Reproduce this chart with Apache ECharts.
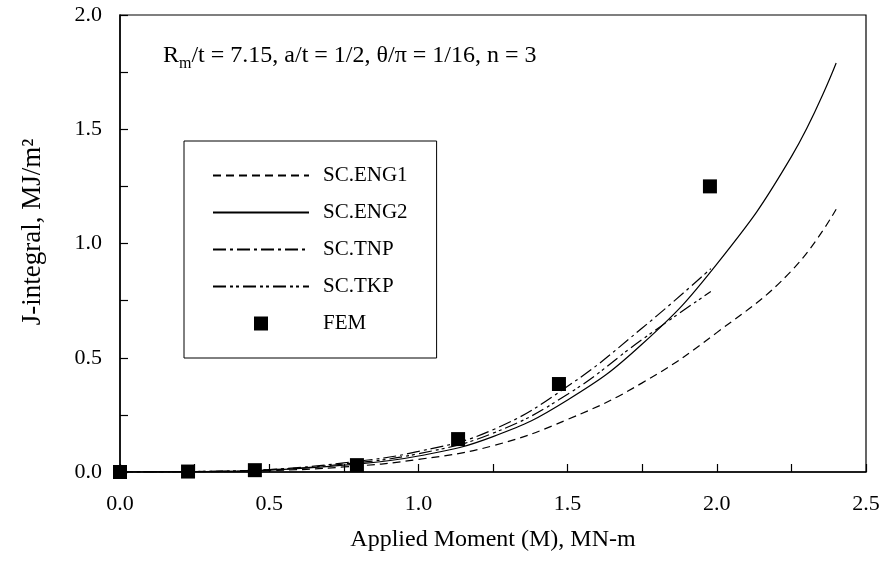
<!DOCTYPE html>
<html>
<head>
<meta charset="utf-8">
<script src="https://cdn.jsdelivr.net/npm/echarts@6/dist/echarts.min.js"></script>
<style>html,body{margin:0;padding:0;background:#fff}#c{width:885px;height:561px}</style>
</head>
<body>
<div id="c"></div>
<script>
// ---- data ----
const mCurve = [0, 0.25, 0.5, 0.75, 1.0, 1.25, 1.5, 1.75, 2.0, 2.25, 2.4];
const eng1 = [0, 0.001, 0.006, 0.022, 0.055, 0.115, 0.23, 0.39, 0.61, 0.88, 1.15];
const eng2 = [0, 0.001, 0.008, 0.03, 0.07, 0.155, 0.315, 0.56, 0.91, 1.38, 1.79];
const mShort = [0, 0.25, 0.5, 0.75, 1.0, 1.25, 1.5, 1.75, 1.98];
const tnp = [0, 0.002, 0.011, 0.04, 0.09, 0.185, 0.375, 0.63, 0.89];
const tkp = [0, 0.002, 0.01, 0.035, 0.08, 0.17, 0.34, 0.58, 0.79];
const mFem = [0, 0.228, 0.452, 0.794, 1.133, 1.471, 1.977];
const fem = [0, 0.002, 0.008, 0.03, 0.144, 0.385, 1.25];
const seriesNames = ['SC.ENG1', 'SC.ENG2', 'SC.TNP', 'SC.TKP', 'FEM'];
const xTicks = [0, 0.5, 1.0, 1.5, 2.0, 2.5];
const yTicks = [0, 0.5, 1.0, 1.5, 2.0];

const pair = (xs, ys) => xs.map((x, i) => [x, ys[i]]);
const FONT = '"Liberation Serif", "Times New Roman", serif';

const chart = echarts.init(document.getElementById('c'));
const lineS = (name, xs, ys, type) => ({
  name, type: 'line', data: pair(xs, ys), smooth: 0.45, symbol: 'none', showSymbol: false,
  itemStyle: { color: '#000' },
  lineStyle: { color: '#000', width: 1.2, type }, z: 3
});
chart.setOption({
  animation: false,
  backgroundColor: '#fff',
  grid: { left: 120, right: 19, top: 15, bottom: 89, show: true, borderColor: '#000', borderWidth: 1.2 },
  xAxis: {
    type: 'value', min: 0, max: 2.5, interval: 0.25,
    name: 'Applied Moment (M), MN-m', nameLocation: 'middle', nameGap: 56,
    nameTextStyle: { fontFamily: FONT, fontSize: 24, color: '#000' },
    axisLine: { lineStyle: { color: '#000', width: 1.5 } },
    axisTick: { inside: true, length: 8, lineStyle: { color: '#000', width: 1.2 } },
    axisLabel: { margin: 21, fontFamily: FONT, fontSize: 22, color: '#000',
      formatter: v => xTicks.some(t => Math.abs(t - v) < 1e-6) ? v.toFixed(1) : '' },
    splitLine: { show: false }
  },
  yAxis: {
    type: 'value', min: 0, max: 2.0, interval: 0.25,
    axisLine: { lineStyle: { color: '#000', width: 1.5 } },
    axisTick: { inside: true, length: 8, lineStyle: { color: '#000', width: 1.2 } },
    axisLabel: { margin: 18, fontFamily: FONT, fontSize: 22, color: '#000',
      formatter: v => yTicks.some(t => Math.abs(t - v) < 1e-6) ? v.toFixed(1) : '' },
    splitLine: { show: false }
  },
  legend: {
    orient: 'vertical', left: 184, top: 141,
    data: seriesNames.map(n => n === 'FEM'
      ? { name: n, icon: 'path://M0,0L10,0L10,10L0,10Z', itemStyle: { color: '#000', opacity: 1 } }
      : { name: n, itemStyle: { opacity: 0 } }),
    itemWidth: 96, itemHeight: 14, itemGap: 16,
    padding: [24, 29, 24, 28],
    borderColor: '#000', borderWidth: 1, backgroundColor: '#fff',
    textStyle: { fontFamily: FONT, fontSize: 21, color: '#000', padding: [0, 0, 0, 9], lineHeight: 19 }
  },
  graphic: [
    {
      type: 'text', left: 163, top: 44, z: 10,
      style: {
        rich: {
          a: { fontFamily: FONT, fontSize: 24, fill: '#000', verticalAlign: 'top', lineHeight: 25 },
          s: { fontFamily: FONT, fontSize: 16, fill: '#000', verticalAlign: 'top', lineHeight: 17, padding: [12, 0, 0, 0] }
        },
        text: '{a|R}{s|m}{a|/t = 7.15, a/t = 1/2, θ/π = 1/16, n = 3}'
      }
    },
    {
      type: 'text', x: 33, y: 232, rotation: Math.PI / 2, z: 10,
      style: { text: 'J-integral, MJ/m²', fontFamily: FONT, fontSize: 27, fill: '#000', align: 'center', verticalAlign: 'middle' }
    }
  ],
  series: [
    lineS('SC.ENG1', mCurve, eng1, [8, 5]),
    lineS('SC.ENG2', mCurve, eng2, 'solid'),
    lineS('SC.TNP', mShort, tnp, [13, 4, 3, 4]),
    lineS('SC.TKP', mShort, tkp, [13, 4, 3, 3, 3, 4]),
    { name: 'FEM', type: 'scatter', data: pair(mFem, fem), symbol: 'rect', symbolSize: 14,
      itemStyle: { color: '#000', opacity: 1 }, z: 5, clip: false }
  ]
});
</script>
</body>
</html>
